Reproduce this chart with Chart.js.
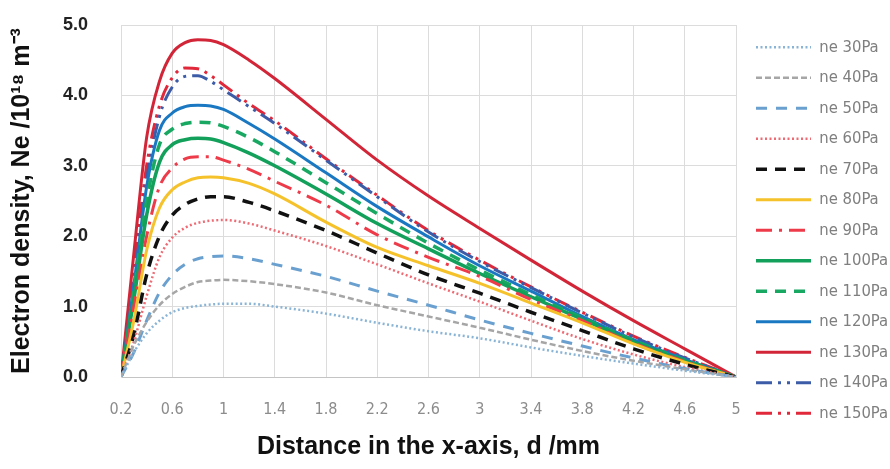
<!DOCTYPE html>
<html>
<head>
<meta charset="utf-8">
<script src="https://cdn.jsdelivr.net/npm/chart.js@4.4.1/dist/chart.umd.min.js"></script>
<style>
  html, body { margin: 0; padding: 0; background: #fff; }
  #wrap { width: 890px; height: 469px; }
</style>
</head>
<body>
<div id="wrap"><canvas id="chart" width="890" height="469"></canvas></div>
<script>
const distance = [0.2, 0.3, 0.4, 0.5, 0.6, 0.7, 0.8, 0.9, 1.0, 1.2, 1.4, 1.8, 2.2, 2.6, 3.0, 3.4, 3.8, 4.2, 4.6, 5.0];
const xTicks = [0.2, 0.6, 1, 1.4, 1.8, 2.2, 2.6, 3, 3.4, 3.8, 4.2, 4.6, 5];
const yTicks = [0, 1, 2, 3, 4, 5];

const seriesNames = ['ne 30Pa', 'ne 40Pa', 'ne 50Pa', 'ne 60Pa', 'ne 70Pa', 'ne 80Pa', 'ne 90Pa',
  'ne 100Pa', 'ne 110Pa', 'ne 120Pa', 'ne 130Pa', 'ne 140Pa', 'ne 150Pa'];

// electron density, 10^18 m^-3
const ne30  = [0, 0.35, 0.62, 0.80, 0.92, 0.98, 1.01, 1.03, 1.04, 1.04, 1.00, 0.90, 0.77, 0.65, 0.55, 0.42, 0.30, 0.19, 0.09, 0];
const ne40  = [0, 0.45, 0.78, 1.02, 1.18, 1.28, 1.35, 1.37, 1.38, 1.36, 1.32, 1.20, 1.02, 0.86, 0.70, 0.53, 0.37, 0.23, 0.11, 0];
const ne50  = [0, 0.35, 0.80, 1.20, 1.45, 1.60, 1.68, 1.71, 1.72, 1.68, 1.60, 1.43, 1.22, 1.02, 0.81, 0.62, 0.44, 0.27, 0.12, 0];
const ne60  = [0, 0.50, 1.15, 1.70, 1.98, 2.12, 2.19, 2.22, 2.23, 2.18, 2.08, 1.86, 1.60, 1.33, 1.07, 0.80, 0.54, 0.32, 0.14, 0];
const ne70  = [0, 0.60, 1.45, 2.00, 2.30, 2.45, 2.53, 2.56, 2.56, 2.48, 2.36, 2.08, 1.76, 1.45, 1.19, 0.92, 0.66, 0.40, 0.18, 0];
const ne80  = [0, 0.80, 1.80, 2.40, 2.66, 2.77, 2.83, 2.84, 2.83, 2.75, 2.60, 2.20, 1.84, 1.58, 1.33, 1.05, 0.77, 0.47, 0.21, 0];
const ne90  = [0, 1.00, 2.00, 2.70, 2.97, 3.10, 3.13, 3.13, 3.08, 2.95, 2.78, 2.44, 2.02, 1.70, 1.43, 1.10, 0.80, 0.48, 0.22, 0];
const ne100 = [0, 1.10, 2.30, 3.05, 3.30, 3.37, 3.39, 3.38, 3.33, 3.18, 3.00, 2.60, 2.18, 1.82, 1.47, 1.14, 0.82, 0.50, 0.23, 0];
const ne110 = [0, 1.20, 2.50, 3.30, 3.52, 3.60, 3.62, 3.61, 3.56, 3.40, 3.20, 2.76, 2.32, 1.90, 1.52, 1.17, 0.84, 0.52, 0.24, 0];
const ne120 = [0, 1.30, 2.70, 3.50, 3.75, 3.84, 3.86, 3.85, 3.80, 3.60, 3.38, 2.90, 2.42, 1.99, 1.58, 1.22, 0.86, 0.53, 0.25, 0];
const ne130 = [0, 1.75, 3.40, 4.20, 4.60, 4.75, 4.79, 4.78, 4.72, 4.50, 4.24, 3.66, 3.08, 2.57, 2.11, 1.66, 1.22, 0.80, 0.40, 0];
const ne140 = [0, 1.30, 2.80, 3.70, 4.12, 4.27, 4.28, 4.20, 4.08, 3.84, 3.60, 3.08, 2.56, 2.06, 1.64, 1.27, 0.91, 0.57, 0.27, 0];
const ne150 = [0, 1.50, 3.00, 3.85, 4.25, 4.39, 4.38, 4.28, 4.15, 3.88, 3.64, 3.10, 2.58, 2.08, 1.66, 1.28, 0.92, 0.58, 0.28, 0];

const seriesValues = [ne30, ne40, ne50, ne60, ne70, ne80, ne90, ne100, ne110, ne120, ne130, ne140, ne150];

const lineColors = ['#8ab4d6', '#a6a6a6', '#6aa0cf', '#ee6b74', '#111111', '#f5c22b', '#ee3b4a',
  '#12a05a', '#19a862', '#1a78c2', '#d22638', '#3d5ca8', '#e0283a'];
const lineDashes = [[2, 2.5], [6, 3], [11, 9], [2, 2.5], [11, 8], [], [16, 7, 3, 7],
  [], [11, 8], [], [], [16, 6, 3, 6, 3, 6], [16, 6, 3, 6, 3, 6]];
const lineWidths = [2.5, 2.5, 3, 2.5, 3.5, 3, 3, 3.5, 3.5, 3, 3, 3, 3];

const narrow = "'DejaVu Sans Condensed', 'DejaVu Sans', sans-serif";
const bold = "'Liberation Sans', Arial, sans-serif";

const datasets = seriesValues.map((vals, i) => ({
  label: seriesNames[i],
  data: vals.map((v, j) => ({ x: distance[j], y: v })),
  borderColor: lineColors[i],
  backgroundColor: lineColors[i],
  borderWidth: lineWidths[i],
  borderDash: lineDashes[i],
  pointRadius: 0,
  cubicInterpolationMode: 'monotone',
  fill: false
}));

// legend swatches should copy the dash and width of each line
const legendLabels = chart =>
  Chart.defaults.plugins.legend.labels.generateLabels(chart).map(item => {
    const ds = chart.data.datasets[item.datasetIndex];
    return Object.assign(item, {
      lineDash: ds.borderDash,
      lineWidth: ds.borderWidth,
      strokeStyle: ds.borderColor
    });
  });

new Chart(document.getElementById('chart'), {
  type: 'line',
  data: { datasets },
  options: {
    responsive: false,
    animation: false,
    devicePixelRatio: 1,
    layout: { padding: { top: 25, left: 7, right: 2, bottom: 0 } },
    plugins: {
      legend: {
        position: 'right',
        align: 'start',
        maxWidth: 146,
        labels: {
          usePointStyle: true,
          pointStyle: 'line',
          pointStyleWidth: 55,
          padding: 14,
          color: '#7f7f7f',
          font: { family: narrow, size: 16.5 },
          generateLabels: legendLabels
        }
      },
      tooltip: { enabled: false }
    },
    scales: {
      x: {
        type: 'linear',
        min: 0.2,
        max: 5,
        afterBuildTicks: s => { s.ticks = xTicks.map(v => ({ value: v })); },
        afterFit: s => { s.height = 92; },
        grid: { color: '#dcdcdc', drawTicks: false },
        border: { color: '#c4c4c4' },
        ticks: {
          padding: 23,
          color: '#8c8c8c',
          autoSkip: false,
          maxRotation: 0,
          font: { family: narrow, size: 16 },
          callback: v => String(+v.toFixed(1))
        },
        title: {
          display: true,
          text: 'Distance in the x-axis, d /mm',
          color: '#111',
          font: { family: bold, size: 25, weight: 'bold' },
          padding: { top: 10, bottom: 7 }
        }
      },
      y: {
        type: 'linear',
        min: 0,
        max: 5,
        afterBuildTicks: s => { s.ticks = yTicks.map(v => ({ value: v })); },
        afterFit: s => {
          s.width = 114;
          // tick padding is only meant horizontally here
          s.paddingTop = 11;
          s.paddingBottom = 11;
        },
        grid: { color: '#dcdcdc', drawTicks: false },
        border: { color: '#dcdcdc' },
        ticks: {
          padding: 33,
          color: '#222',
          font: { family: bold, size: 18, weight: 'bold' },
          callback: v => v.toFixed(1)
        },
        title: {
          display: true,
          text: 'Electron density, Ne /10¹⁸ m⁻³',
          color: '#111',
          font: { family: bold, size: 25, weight: 'bold' },
          padding: { top: 0, bottom: 24 }
        }
      },
      // empty axis, only keeps a gap between plot and legend
      gap: {
        type: 'linear',
        position: 'right',
        display: true,
        grid: { display: false, drawTicks: false },
        border: { display: false },
        ticks: { display: false },
        afterFit: s => { s.width = 6; }
      }
    }
  }
});
</script>
</body>
</html>
